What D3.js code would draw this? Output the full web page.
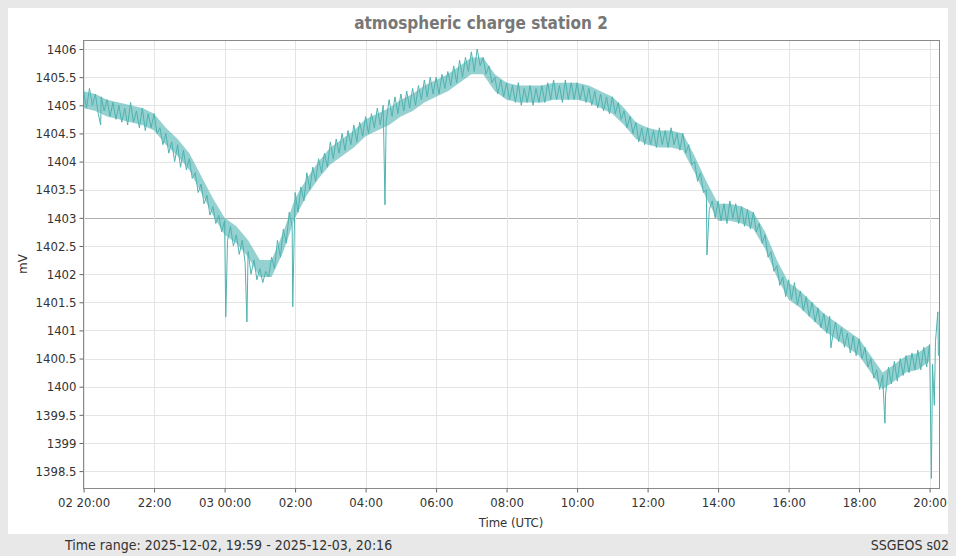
<html lang="en"><head>
<script src="https://d3js.org/d3.v7.min.js"></script>
<style>
body { margin: 0; background: #e8e8e8; font-family: "DejaVu Sans Condensed", "DejaVu Sans", sans-serif; }
</style>
</head><body>
<div id="chart"></div>
<script>
// 5-minute samples starting 2025-12-02 20:00 UTC, one row per hour (mV)
var startTime = "2025-12-02T20:00:00Z";
var stepMinutes = 5;
var samples = [
  1405.25,1404.95,1405.3,1405.0,1405.2,1404.85,1405.15,1404.9,1405.1,1404.8,1405.05,1404.75,
  1405.0,1404.7,1404.95,1404.65,1405.05,1404.7,1404.9,1404.6,1404.95,1404.55,1404.85,1404.6,
  1404.85,1404.5,1404.6,1404.3,1404.5,1404.15,1404.35,1404.0,1404.3,1403.9,1404.2,1403.85,
  1404.05,1403.7,1403.8,1403.45,1403.6,1403.25,1403.4,1403.05,1403.2,1402.9,1403.05,1402.75,
  1402.95,1402.6,1402.85,1402.5,1402.7,1402.35,1402.6,1402.2,1402.4,1402.0,1402.25,1401.9,
  1402.1,1401.85,1402.05,1401.95,1402.3,1402.1,1402.6,1402.3,1402.8,1402.55,1403.1,1402.85,
  1403.45,1403.1,1403.55,1403.3,1403.8,1403.5,1403.9,1403.65,1404.05,1403.8,1404.15,1403.9,
  1404.35,1404.05,1404.4,1404.15,1404.5,1404.2,1404.55,1404.3,1404.65,1404.35,1404.7,1404.45,
  1404.8,1404.5,1404.85,1404.6,1404.95,1404.65,1405.0,1404.7,1405.1,1404.8,1405.15,1404.85,
  1405.2,1404.9,1405.25,1404.95,1405.3,1405.0,1405.35,1405.1,1405.45,1405.15,1405.5,1405.2,
  1405.5,1405.2,1405.55,1405.3,1405.6,1405.35,1405.7,1405.4,1405.8,1405.5,1405.85,1405.6,
  1405.95,1405.6,1406.0,1405.7,1405.85,1405.55,1405.7,1405.4,1405.5,1405.2,1405.45,1405.15,
  1405.4,1405.1,1405.35,1405.05,1405.4,1405.0,1405.3,1405.05,1405.35,1405.0,1405.3,1405.05,
  1405.35,1405.05,1405.4,1405.1,1405.45,1405.1,1405.35,1405.05,1405.45,1405.1,1405.4,1405.1,
  1405.4,1405.1,1405.35,1405.05,1405.3,1405.0,1405.25,1404.95,1405.2,1404.9,1405.15,1404.85,
  1405.15,1404.85,1405.05,1404.75,1404.9,1404.6,1404.8,1404.5,1404.7,1404.35,1404.6,1404.3,
  1404.6,1404.3,1404.55,1404.25,1404.6,1404.3,1404.55,1404.25,1404.6,1404.3,1404.5,1404.2,
  1404.5,1404.15,1404.3,1403.95,1404.0,1403.65,1403.8,1403.45,1403.5,1403.15,1403.3,1403.0,
  1403.3,1402.95,1403.25,1402.9,1403.3,1403.0,1403.25,1402.9,1403.2,1402.85,1403.15,1402.8,
  1403.1,1402.75,1402.9,1402.55,1402.7,1402.3,1402.4,1402.05,1402.15,1401.8,1401.95,1401.6,
  1401.9,1401.55,1401.85,1401.45,1401.7,1401.35,1401.6,1401.25,1401.5,1401.15,1401.4,1401.05,
  1401.3,1400.95,1401.25,1400.9,1401.15,1400.8,1401.05,1400.7,1400.95,1400.6,1400.9,1400.55,
  1400.85,1400.5,1400.7,1400.35,1400.5,1400.15,1400.3,1399.95,1400.2,1399.85,1400.35,1400.05,
  1400.45,1400.1,1400.5,1400.2,1400.55,1400.25,1400.6,1400.3,1400.65,1400.3,1400.7,1400.35,
  1400.75,1400.4,1400.8,1400.55
];
// dense noise band (lower / upper edge), every 20 minutes from 20:00 to 20:00
var bandStep = 20;
var bandLo = [
  1404.95,1404.9,1404.8,1404.75,1404.7,1404.65,1404.55,1404.3,1404.1,1403.85,1403.45,1403.05,
  1402.7,1402.55,1402.3,1401.95,1401.95,1402.4,1403.0,1403.4,1403.7,1403.95,1404.1,1404.25,
  1404.45,1404.55,1404.65,1404.8,1404.9,1405.05,1405.15,1405.25,1405.4,1405.55,1405.55,1405.25,
  1405.1,1405.05,1405.05,1405.05,1405.1,1405.1,1405.1,1405.05,1404.95,1404.85,1404.65,1404.4,
  1404.3,1404.25,1404.25,1404.2,1403.8,1403.35,1402.95,1402.95,1402.9,1402.8,1402.45,1401.95,
  1401.55,1401.4,1401.2,1401.0,1400.85,1400.7,1400.55,1400.25,1399.95,1400.1,1400.25,1400.3,1400.45
];
var bandHi = [
  1405.25,1405.2,1405.1,1405.05,1405.0,1404.95,1404.85,1404.6,1404.4,1404.15,1403.75,1403.35,
  1403.0,1402.85,1402.6,1402.25,1402.25,1402.75,1403.35,1403.7,1404.0,1404.25,1404.4,1404.55,
  1404.75,1404.85,1404.95,1405.1,1405.2,1405.35,1405.45,1405.55,1405.7,1405.85,1405.85,1405.55,
  1405.4,1405.35,1405.35,1405.35,1405.4,1405.4,1405.4,1405.35,1405.25,1405.15,1404.95,1404.7,
  1404.6,1404.55,1404.55,1404.5,1404.1,1403.65,1403.25,1403.25,1403.2,1403.1,1402.75,1402.25,
  1401.85,1401.7,1401.5,1401.3,1401.15,1401.0,1400.85,1400.55,1400.25,1400.4,1400.55,1400.6,1400.75
];
// isolated spikes
var spikeTimes = ["2025-12-02T20:29:00Z","2025-12-03T00:02:00Z","2025-12-03T00:38:00Z","2025-12-03T01:56:00Z",
  "2025-12-03T04:33:00Z","2025-12-03T13:41:00Z","2025-12-03T17:12:00Z","2025-12-03T18:44:00Z",
  "2025-12-03T20:03:00Z","2025-12-03T20:08:00Z","2025-12-03T20:14:00Z"];
var spikeValues = [1404.65,1401.24,1401.15,1401.42,1403.23,1402.34,1400.69,1399.35,1398.37,1399.67,1401.33];

var yTicks = [1398.5,1399,1399.5,1400,1400.5,1401,1401.5,1402,1402.5,1403,1403.5,1404,1404.5,1405,1405.5,1406];
var xTickHours = ["2025-12-02T20:00:00Z","2025-12-02T22:00:00Z","2025-12-03T00:00:00Z","2025-12-03T02:00:00Z",
  "2025-12-03T04:00:00Z","2025-12-03T06:00:00Z","2025-12-03T08:00:00Z","2025-12-03T10:00:00Z",
  "2025-12-03T12:00:00Z","2025-12-03T14:00:00Z","2025-12-03T16:00:00Z","2025-12-03T18:00:00Z","2025-12-03T20:00:00Z"];
var xTickLabels = ["02 20:00","22:00","03 00:00","02:00","04:00","06:00","08:00","10:00","12:00","14:00","16:00","18:00","20:00"];

var t0 = new Date(startTime);
var points = samples.map((v, i) => ({t: new Date(t0.getTime() + i * stepMinutes * 60000), v: v}));
spikeTimes.forEach((s, i) => points.push({t: new Date(s), v: spikeValues[i]}));
points.sort((a, b) => a.t - b.t);
var band = bandLo.map((lo, i) => ({t: new Date(t0.getTime() + i * bandStep * 60000), lo: lo, hi: bandHi[i]}));

var W = 956, H = 556;
var pLeft = 83, pRight = 939, pTop = 40, pBottom = 488;
var teal = "#4fb3b0";

var svg = d3.select("#chart").append("svg").attr("width", W).attr("height", H);
svg.append("rect").attr("x", 8).attr("y", 8).attr("width", 940).attr("height", 526).attr("fill", "#fff");

var x = d3.scaleUtc()
    .domain([new Date("2025-12-02T19:59:00Z"), new Date("2025-12-03T20:16:00Z")])
    .range([pLeft, pRight]);
var y = d3.scaleLinear().domain([1398.2, 1406.16]).range([pBottom, pTop]);

var grid = svg.append("g");
grid.selectAll(".gy").data(yTicks).join("line")
    .attr("x1", pLeft).attr("x2", pRight)
    .attr("y1", d => Math.round(y(d)) + 0.5).attr("y2", d => Math.round(y(d)) + 0.5)
    .attr("stroke", d => d === 1403 ? "#b0b0b0" : "#e4e4e4");
grid.selectAll(".gx").data(xTickHours).join("line")
    .attr("x1", d => Math.round(x(new Date(d))) + 0.5).attr("x2", d => Math.round(x(new Date(d))) + 0.5)
    .attr("y1", pTop).attr("y2", pBottom)
    .attr("stroke", "#e4e4e4");

var area = d3.area().x(d => x(d.t)).y0(d => y(d.lo)).y1(d => y(d.hi));
svg.append("path").datum(band)
    .attr("d", area)
    .attr("fill", teal)
    .attr("fill-opacity", 0.6);

var line = d3.line().x(d => x(d.t)).y(d => y(d.v));
svg.append("path").datum(points)
    .attr("d", line)
    .attr("fill", "none")
    .attr("stroke", teal)
    .attr("stroke-width", 1);

svg.append("rect").attr("x", pLeft + 0.5).attr("y", pTop + 0.5)
    .attr("width", pRight - pLeft).attr("height", pBottom - pTop)
    .attr("fill", "none").attr("stroke", "#8a8a8a");

var yAxis = svg.append("g").attr("transform", `translate(${pLeft + 0.5},0)`)
    .call(d3.axisLeft(y).tickValues(yTicks).tickSize(4).tickFormat(d => d3.format("")(d)));
yAxis.select(".domain").remove();
yAxis.selectAll("line").attr("stroke", "#666");
yAxis.selectAll("text").attr("fill", "#333").attr("font-size", 13)
    .attr("font-family", "'DejaVu Sans Condensed', 'DejaVu Sans', sans-serif");

var xAxis = svg.append("g").attr("transform", `translate(0,${pBottom + 0.5})`)
    .call(d3.axisBottom(x).tickValues(xTickHours.map(d => new Date(d))).tickSize(4)
        .tickFormat((d, i) => xTickLabels[i]));
xAxis.select(".domain").remove();
xAxis.selectAll("line").attr("stroke", "#666");
xAxis.selectAll("text").attr("fill", "#333").attr("font-size", 13).attr("dy", "0.9em")
    .attr("font-family", "'DejaVu Sans Condensed', 'DejaVu Sans', sans-serif");

svg.append("text").attr("x", 481).attr("y", 29)
    .attr("text-anchor", "middle").attr("font-size", 17).attr("font-weight", "bold")
    .attr("fill", "#777").text("atmospheric charge station 2");
svg.append("text").attr("transform", "translate(27,264) rotate(-90)")
    .attr("text-anchor", "middle").attr("font-size", 13).attr("fill", "#333").text("mV");
svg.append("text").attr("x", 511).attr("y", 527)
    .attr("text-anchor", "middle").attr("font-size", 13).attr("fill", "#333").text("Time (UTC)");
svg.append("text").attr("x", 65).attr("y", 550)
    .attr("font-size", 14).attr("fill", "#333").text("Time range: 2025-12-02, 19:59 - 2025-12-03, 20:16");
svg.append("text").attr("x", 949).attr("y", 550).attr("text-anchor", "end")
    .attr("font-size", 14).attr("fill", "#333").text("SSGEOS s02");
</script>
</body></html>
